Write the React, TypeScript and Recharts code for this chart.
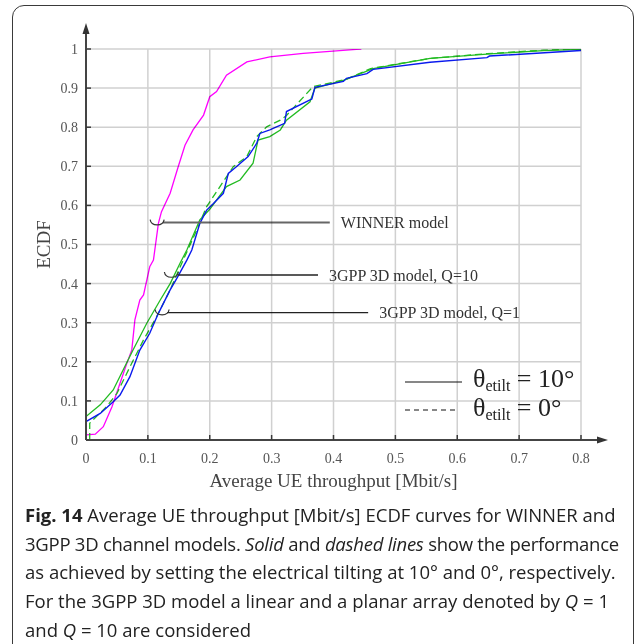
import React from 'react';
import {
  LineChart, Line, XAxis, YAxis,
  ReferenceLine, ReferenceDot, Legend
} from 'recharts';

// tick values / labels
const xTicks = [0, 0.1, 0.2, 0.3, 0.4, 0.5, 0.6, 0.7, 0.8];
const xTickLabels = ['0', '0.1', '0.2', '0.3', '0.4', '0.5', '0.6', '0.7', '0.8'];
const yTicks = [0, 0.1, 0.2, 0.3, 0.4, 0.5, 0.6, 0.7, 0.8, 0.9, 1];
const yTickLabels = ['0', '0.1', '0.2', '0.3', '0.4', '0.5', '0.6', '0.7', '0.8', '0.9', '1'];

// WINNER model, etilt 10 (magenta)
const winnerX = [0, 0, 0.015, 0.028, 0.042, 0.055, 0.066, 0.074, 0.079, 0.087, 0.093, 0.103, 0.109, 0.117, 0.122, 0.136, 0.149, 0.16, 0.173, 0.19, 0.2, 0.211, 0.227, 0.26, 0.297, 0.351, 0.437, 0.445];
const winnerY = [0, 0.013, 0.015, 0.034, 0.085, 0.145, 0.196, 0.23, 0.307, 0.358, 0.371, 0.443, 0.46, 0.554, 0.584, 0.631, 0.699, 0.754, 0.793, 0.831, 0.878, 0.891, 0.933, 0.967, 0.98, 0.989, 0.999, 1];

// 3GPP 3D, Q=1, etilt 10 (blue)
const q1X = [0, 0, 0.023, 0.044, 0.055, 0.071, 0.087, 0.103, 0.117, 0.136, 0.147, 0.163, 0.171, 0.184, 0.195, 0.206, 0.222, 0.23, 0.243, 0.262, 0.276, 0.281, 0.297, 0.308, 0.321, 0.324, 0.362, 0.365, 0.37, 0.416, 0.421, 0.454, 0.464, 0.556, 0.648, 0.652, 0.8];
const q1Y = [0, 0.047, 0.068, 0.098, 0.115, 0.162, 0.23, 0.273, 0.324, 0.384, 0.414, 0.46, 0.486, 0.554, 0.588, 0.605, 0.631, 0.682, 0.699, 0.725, 0.759, 0.784, 0.793, 0.801, 0.81, 0.84, 0.87, 0.872, 0.902, 0.917, 0.925, 0.937, 0.948, 0.966, 0.978, 0.982, 0.996];

// 3GPP 3D, Q=10, etilt 10 (green solid)
const q10X = [0, 0, 0.023, 0.044, 0.06, 0.076, 0.098, 0.12, 0.136, 0.152, 0.163, 0.184, 0.2, 0.227, 0.249, 0.27, 0.278, 0.297, 0.314, 0.324, 0.362, 0.37, 0.416, 0.464, 0.556, 0.648, 0.739, 0.8];
const q10Y = [0, 0.06, 0.09, 0.128, 0.179, 0.23, 0.298, 0.358, 0.4, 0.452, 0.486, 0.563, 0.59, 0.648, 0.665, 0.708, 0.767, 0.776, 0.793, 0.818, 0.865, 0.9, 0.92, 0.95, 0.976, 0.987, 0.996, 0.999];

// 3GPP 3D, Q=10, etilt 0 (green dashed)
const q10DashX = [0.006, 0.006, 0.033, 0.05, 0.071, 0.093, 0.114, 0.136, 0.157, 0.179, 0.195, 0.238, 0.26, 0.276, 0.292, 0.314, 0.324, 0.367, 0.42, 0.46, 0.556, 0.648, 0.739, 0.8];
const q10DashY = [0, 0.043, 0.085, 0.119, 0.187, 0.256, 0.315, 0.384, 0.46, 0.537, 0.597, 0.699, 0.725, 0.776, 0.801, 0.818, 0.83, 0.904, 0.922, 0.95, 0.976, 0.988, 0.997, 1];

const toPoints = (xs: number[], ys: number[]) => xs.map((x, i) => ({ x, y: ys[i] }));

const winnerData = toPoints(winnerX, winnerY);
const q1Data = toPoints(q1X, q1Y);
const q10Data = toPoints(q10X, q10Y);
const q10DashData = toPoints(q10DashX, q10DashY);

const X_MAX = 0.8;
const Y_MAX = 1;
const SERIF = '"Liberation Serif", "Times New Roman", serif';
const GRID = '#d0d0d0';
const TICK_MARGIN_X = 13;
const TICK_MARGIN_Y = 8;

// plot box (pixels) set by chart size + margins below
const PLOT = { left: 86, top: 49, width: 495, height: 391 };

const XTick = (props: any) => {
  const { x, y, payload } = props;
  const axisY = y - TICK_MARGIN_X;
  return (
    <g>
      {payload.value !== 0 && (
        <line x1={x} x2={x} y1={axisY} y2={axisY - 5} stroke="#444" strokeWidth={1.5} />
      )}
      <text x={x} y={y} dy="0.71em" textAnchor="middle" fill="#555" fontSize={14} fontFamily={SERIF}>
        {xTickLabels[xTicks.indexOf(payload.value)]}
      </text>
    </g>
  );
};

const YTick = (props: any) => {
  const { x, y, payload } = props;
  const axisX = x + TICK_MARGIN_Y;
  return (
    <g>
      {payload.value !== 0 && (
        <line x1={axisX} x2={axisX + 5} y1={y} y2={y} stroke="#444" strokeWidth={1.5} />
      )}
      <text x={x} y={y} dy="0.35em" textAnchor="end" fill="#555" fontSize={14} fontFamily={SERIF}>
        {yTickLabels[yTicks.indexOf(payload.value)]}
      </text>
    </g>
  );
};

// small curly bracket at the left end of each annotation line
const Bracket = (props: any) => {
  const { cx, cy } = props;
  return (
    <path
      d={`M ${cx - 7} ${cy - 3} C ${cx - 6} ${cy + 4}, ${cx + 6} ${cy + 4}, ${cx + 7} ${cy - 3}`}
      fill="none"
      stroke="#333"
      strokeWidth={1.2}
    />
  );
};

const LegendBox = () => (
  <svg width={210} height={60}>
    <line x1={5} x2={62} y1={17} y2={17} stroke="#111" strokeWidth={1.2} />
    <text x={73} y={22} fontSize={26} fontFamily={SERIF} fill="#222">
      θ<tspan fontSize={16} dy={4}>etilt</tspan><tspan dy={-4}> = 10°</tspan>
    </text>
    <line x1={5} x2={58} y1={45} y2={45} stroke="#111" strokeWidth={1.2} strokeDasharray="5 4" />
    <text x={73} y={51} fontSize={26} fontFamily={SERIF} fill="#222">
      θ<tspan fontSize={16} dy={4}>etilt</tspan><tspan dy={-4}> = 0°</tspan>
    </text>
  </svg>
);

const annoLabel = (value: string) => ({
  value,
  position: 'right' as const,
  offset: 11,
  fill: '#333',
  fontSize: 16,
  fontFamily: SERIF,
});

export default function App() {
  return (
    <div style={{ position: 'absolute', left: 0, top: 0, width: 636, height: 644, overflow: 'hidden', background: '#fff' }}>
      <div
        style={{
          position: 'absolute', left: 12, top: 5, width: 622, height: 700,
          border: '1.5px solid #3a3a3a', borderRadius: 12, boxSizing: 'border-box',
        }}
      />
      <div style={{ position: 'absolute', left: 0, top: 0 }}>
        <LineChart width={636} height={500} margin={{ top: 49, right: 55, bottom: 10, left: 0 }}>
          <XAxis
            dataKey="x"
            type="number"
            domain={[0, X_MAX]}
            ticks={xTicks}
            height={50}
            tickSize={0}
            tickMargin={TICK_MARGIN_X}
            tick={<XTick />}
            axisLine={{ stroke: '#444', strokeWidth: 2 }}
            tickLine={false}
            allowDataOverflow
            label={{ value: 'Average UE throughput [Mbit/s]', position: 'insideBottom', offset: 3, fill: '#444', fontSize: 19, fontFamily: SERIF }}
          />
          <YAxis
            type="number"
            domain={[0, Y_MAX]}
            ticks={yTicks}
            width={86}
            tickSize={0}
            tickMargin={TICK_MARGIN_Y}
            tick={<YTick />}
            axisLine={{ stroke: '#444', strokeWidth: 2 }}
            tickLine={false}
            allowDataOverflow
            label={{ value: 'ECDF', angle: -90, position: 'center', fill: '#444', fontSize: 19, fontFamily: SERIF }}
          />

          <Line data={winnerData} dataKey="y" type="linear" stroke="#ff00ff" strokeWidth={1.3} dot={false} isAnimationActive={false} />
          <Line data={q10DashData} dataKey="y" type="linear" stroke="#22bb22" strokeWidth={1.3} strokeDasharray="7 4" dot={false} isAnimationActive={false} />
          <Line data={q10Data} dataKey="y" type="linear" stroke="#22bb22" strokeWidth={1.3} dot={false} isAnimationActive={false} />
          <Line data={q1Data} dataKey="y" type="linear" stroke="#0a1aee" strokeWidth={1.4} dot={false} isAnimationActive={false} />

          <ReferenceLine segment={[{ x: 0.124, y: 0.556 }, { x: 0.394, y: 0.556 }]} stroke="#666" strokeWidth={2} label={annoLabel('WINNER model')} />
          <ReferenceLine segment={[{ x: 0.149, y: 0.422 }, { x: 0.375, y: 0.422 }]} stroke="#222" strokeWidth={1.3} label={annoLabel('3GPP 3D model, Q=10')} />
          <ReferenceLine segment={[{ x: 0.131, y: 0.326 }, { x: 0.456, y: 0.326 }]} stroke="#222" strokeWidth={1.3} label={annoLabel('3GPP 3D model, Q=1')} />
          <ReferenceDot x={0.115} y={0.556} shape={<Bracket />} />
          <ReferenceDot x={0.138} y={0.422} shape={<Bracket />} />
          <ReferenceDot x={0.123} y={0.326} shape={<Bracket />} />

          <Legend
            layout="horizontal"
            verticalAlign="middle"
            align="center"
            content={() => <LegendBox />}
            wrapperStyle={{ left: 400, top: 365, width: 210, height: 60 }}
          />
        </LineChart>
      </div>
      {/* grid at the tick positions, multiplied over the plot so curves stay on top visually */}
      <svg
        style={{ position: 'absolute', left: 0, top: 0, mixBlendMode: 'multiply', pointerEvents: 'none' }}
        width={636}
        height={500}
      >
        {xTicks.slice(1).map((t) => {
          const px = PLOT.left + (t / X_MAX) * PLOT.width;
          return <line key={`gx${t}`} x1={px} x2={px} y1={PLOT.top} y2={PLOT.top + PLOT.height} stroke={GRID} strokeWidth={1.5} />;
        })}
        {yTicks.slice(1).map((t) => {
          const py = PLOT.top + (1 - t / Y_MAX) * PLOT.height;
          return <line key={`gy${t}`} x1={PLOT.left} x2={PLOT.left + PLOT.width} y1={py} y2={py} stroke={GRID} strokeWidth={1.5} />;
        })}
      </svg>
      {/* axis arrows */}
      <svg style={{ position: 'absolute', left: 0, top: 0, pointerEvents: 'none' }} width={636} height={500}>
        <line x1={86} x2={86} y1={49} y2={30} stroke="#444" strokeWidth={2} />
        <path d="M 86 23 L 82.5 34 L 89.5 34 Z" fill="#333" />
        <line x1={581} x2={600} y1={440} y2={440} stroke="#444" strokeWidth={2} />
        <path d="M 608 440 L 597 436.5 L 597 443.5 Z" fill="#333" />
      </svg>
      <div
        style={{
          position: 'absolute', left: 25, top: 501, width: 610,
          fontFamily: '"Open Sans", "Noto Sans", sans-serif', fontSize: 18.5,
          lineHeight: '28.7px', color: '#222', whiteSpace: 'nowrap',
        }}
      >
        <div><b>Fig. 14</b> Average UE throughput [Mbit/s] ECDF curves for WINNER and</div>
        <div style={{ letterSpacing: -0.25 }}>3GPP 3D channel models. <i>Solid</i> and <i>dashed lines</i> show the performance</div>
        <div>as achieved by setting the electrical tilting at 10° and 0°, respectively.</div>
        <div>For the 3GPP 3D model a linear and a planar array denoted by <i>Q</i> = 1</div>
        <div>and <i>Q</i> = 10 are considered</div>
      </div>
    </div>
  );
}
